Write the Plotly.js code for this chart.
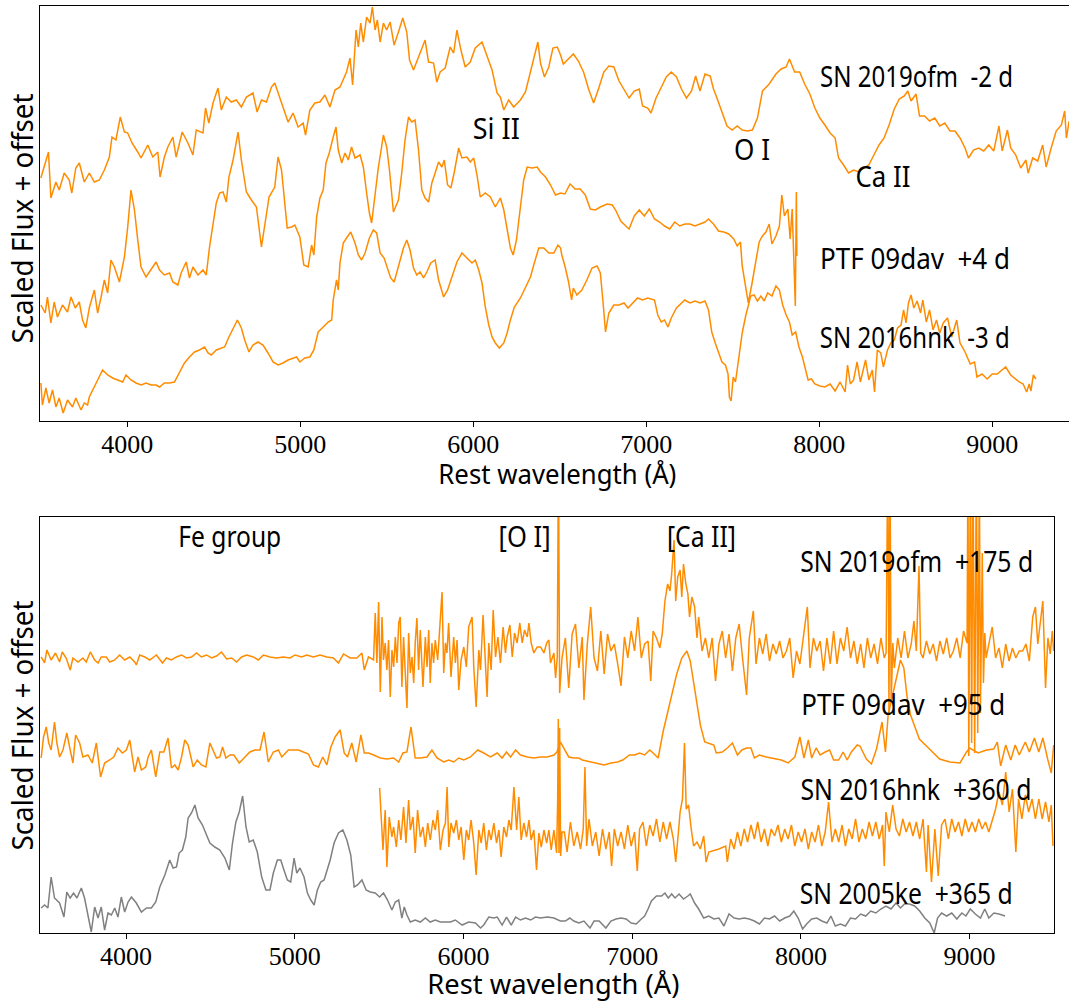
<!DOCTYPE html>
<html><head><meta charset="utf-8">
<script src="https://cdn.plot.ly/plotly-3.0.1.min.js"></script>
<style>html,body{margin:0;padding:0;background:#fff;} #chart{width:1069px;height:1004px;}</style>
</head><body><div id="chart"></div>
<script>
// ---------- TOP PANEL (early spectra) ----------
const WL_19OFM_M2 = [3500,3544,3558,3587,3606,3635,3664,3679,3702,3722,3751,3780,3809,3838,3867,3896,3911,3934,3959,3983,4002,4027,4060,4079,4118,4147,4176,4189,4214,4234,4263,4282,4317,4350,4379,4398,4437,4452,4471,4495,4524,4543,4572,4601,4630,4659,4688,4726,4750,4775,4804,4833,4852,4871,4900,4929,4958,4987,5016,5030,5055,5084,5113,5142,5171,5200,5229,5248,5267,5287,5302,5322,5335,5349,5364,5383,5403,5416,5432,5445,5461,5480,5499,5519,5542,5567,5592,5615,5631,5654,5673,5692,5721,5741,5770,5789,5808,5837,5866,5886,5905,5928,5953,5982,6011,6050,6079,6108,6137,6156,6176,6204,6233,6272,6301,6330,6349,6373,6388,6411,6436,6460,6485,6504,
6520,6549,6578,6607,6637,6666,6695,6725,6754,6783,6812,6842,6871,6900,6930,6959,6978,7008,7027,7056,7076,7115,7144,7174,7203,7232,7261,7285,7310,7339,7369,7388,7408,7437,7466,7496,7525,7554,7583,7613,7642,7671,7710,7749,7779,7808,7827,7857,7886,7915,7945,7974,8003,8032,8062,8091,8111,8140,8169,8198,8228,8257,8286,8315,8345,8374,8403,8433,8462,8491,8511,8530,8559,8579,8608,8637,8667,8696,8725,8755,8784,8813,8842,8862,8891,8921,8950,8979,9008,9038,9057,9087,9106,9135,9164,9194,9207,9233,9262,9291,9311,9340,9369,9399,9418,9428,9444];
const FX_19OFM_M2 = [24.3,26.9,22.3,23.9,23.1,24.8,24.1,22.8,25.3,25.8,23.9,24.8,23.9,24.1,25.1,26.4,28.4,28.1,30.4,28.9,28.8,27.8,26.9,26.3,27.6,26.4,26.9,24.4,26.4,27.4,28.4,26.4,28.9,27.8,26.6,29.1,28.8,31.3,29.8,31.8,33.3,31.1,32.4,31.9,32.1,31.4,32.4,32.8,30.9,32.1,31.9,33.4,33.8,32.8,31.4,29.9,30.8,29.4,29.8,28.6,31.1,31.8,31.9,32.6,31.4,33.1,33.4,34.1,34.9,36.3,33.6,39.1,37.4,39.8,37.9,40.4,39.8,41.4,39.1,40.1,37.9,39.8,39.1,39.9,37.6,38.9,40.3,38.9,36.1,35.1,35.9,36.9,38.1,35.9,35.8,33.9,34.9,35.3,37.4,36.8,39.1,37.1,35.4,35.9,37.3,37.9,36.4,35.1,32.8,32.4,31.1,32.1,31.4,32.1,32.9,34.8,36.3,37.9,35.8,34.4,35.4,37.3,37.4,36.6,
35.7,36.2,36.7,36.0,34.9,33.2,31.8,33.3,34.9,35.5,35.4,34.0,33.2,32.3,33.0,33.2,31.5,31.3,30.8,32.3,33.0,34.4,34.9,34.4,33.2,32.3,33.0,34.5,33.0,34.7,34.5,33.2,32.3,30.8,29.5,29.1,29.5,29.1,29.0,29.1,30.3,33.0,33.7,34.7,35.2,35.4,36.2,34.9,34.9,33.7,32.7,31.3,30.3,29.6,28.8,28.3,26.3,25.6,24.8,25.1,24.9,25.3,25.6,26.6,27.6,28.3,29.6,31.2,32.2,32.5,33.0,32.0,32.7,30.5,30.5,30.0,30.3,29.5,29.8,29.0,29.0,28.3,27.3,26.3,27.1,27.3,27.0,27.6,27.0,29.5,27.0,29.1,27.3,26.6,25.3,26.1,24.8,26.3,26.0,27.6,25.4,27.3,29.0,29.6,31.0,28.3,30.0];

const WL_09DAV_P4 = [3500,3525,3538,3558,3577,3596,3625,3654,3674,3699,3722,3741,3760,3780,3809,3828,3847,3867,3886,3905,3925,3954,3983,4002,4021,4041,4060,4079,4108,4137,4166,4186,4214,4244,4263,4292,4311,4340,4359,4379,4408,4437,4456,4475,4495,4514,4533,4553,4572,4587,4611,4640,4659,4688,4717,4746,4775,4804,4819,4852,4871,4891,4910,4924,4949,4968,4997,5020,5045,5065,5078,5094,5113,5132,5148,5167,5190,5206,5219,5239,5258,5277,5296,5316,5345,5364,5383,5399,5412,5432,5451,5465,5480,5499,5515,5538,5567,5586,5605,5625,5644,5663,5683,5702,5721,5741,5760,5779,5799,5818,5832,5851,5870,5890,5915,5934,5963,5982,6002,6021,6040,6069,6098,6127,6156,6176,6195,6214,6230,6249,6272,6291,6311,6340,6369,6388,6417,6446,6475,6504,
6529,6559,6588,6617,6647,6676,6705,6734,6773,6803,6822,6852,6881,6900,6930,6959,6988,7017,7047,7076,7105,7135,7164,7193,7222,7252,7281,7310,7339,7359,7388,7417,7447,7476,7505,7525,7544,7554,7574,7589,7609,7632,7652,7671,7691,7710,7726,7749,7769,7783,7798,7818,7831,7843,7851,7861,7867,7870];
const FX_09DAV_P4 = [11.6,10.8,12.4,9.8,11.9,10.4,11.6,10.9,12.4,11.3,11.9,10.1,9.3,11.3,13.1,10.8,12.3,14.1,12.8,16.1,15.4,13.9,16.4,19.4,23.1,21.1,18.1,15.4,14.4,15.1,15.9,15.1,14.6,14.8,13.9,13.6,14.8,15.9,14.3,15.4,14.6,15.1,14.6,17.4,19.8,21.8,22.8,22.9,21.9,24.4,26.1,28.9,26.1,22.9,22.1,21.4,17.4,20.4,22.4,23.4,26.4,25.1,21.4,19.3,19.4,19.6,18.4,15.6,15.4,17.6,16.6,20.4,22.3,23.1,25.8,26.8,28.4,29.4,27.1,25.8,26.8,26.1,27.4,26.3,26.6,25.4,22.8,20.8,19.8,22.8,25.4,26.9,28.6,27.4,25.1,20.9,22.1,24.8,28.1,30.4,29.9,30.1,27.1,23.1,22.3,21.9,23.8,24.8,25.9,25.4,26.1,23.6,23.3,24.9,27.3,26.3,26.4,25.9,26.3,24.6,22.4,22.8,22.4,21.4,22.3,21.1,19.1,17.3,16.6,18.1,21.4,24.1,25.4,25.3,25.4,24.9,24.4,23.6,22.6,22.8,
22.7,23.7,23.2,23.2,22.6,21.2,21.1,21.4,21.7,21.6,21.1,20.0,19.5,19.2,20.5,21.1,20.5,21.2,20.2,19.9,19.5,19.2,19.9,19.5,19.7,19.7,19.5,19.7,19.9,20.2,19.7,19.0,18.9,18.7,18.2,17.5,17.9,15.5,13.5,11.8,13.6,15.8,17.9,18.5,18.9,19.7,17.7,18.5,19.5,22.6,20.5,21.2,18.2,21.2,16.5,11.5,22.9,16.5];

const WL_16HNK_M3 = [3500,3509,3529,3548,3567,3587,3606,3629,3654,3683,3702,3732,3751,3770,3780,3809,3838,3857,3886,3915,3944,3973,3992,4021,4050,4079,4108,4137,4166,4186,4214,4244,4272,4301,4330,4359,4388,4417,4446,4466,4485,4514,4543,4562,4587,4611,4636,4659,4678,4703,4726,4755,4784,4813,4842,4871,4900,4929,4958,4978,4997,5026,5055,5078,5103,5132,5161,5181,5190,5209,5219,5229,5248,5267,5291,5316,5335,5354,5374,5399,5422,5441,5461,5484,5503,5522,5542,5567,5596,5615,5634,5654,5673,5692,5712,5731,5754,5779,5799,5828,5851,5876,5905,5934,5963,5992,6011,6031,6050,6069,6089,6108,6127,6150,6176,6195,6214,6237,6272,6301,6330,6349,6378,6407,6436,6465,6489,6504,
6510,6529,6549,6568,6578,6598,6627,6656,6686,6715,6734,6750,6764,6783,6812,6842,6871,6894,6920,6949,6978,7008,7047,7066,7086,7105,7125,7144,7174,7203,7222,7252,7281,7310,7339,7359,7378,7398,7418,7437,7457,7472,7480,7490,7502,7515,7535,7554,7574,7593,7603,7623,7642,7662,7681,7701,7726,7749,7769,7788,7808,7827,7843,7863,7882,7902,7915,7935,7954,7974,8003,8032,8062,8091,8120,8149,8163,8179,8198,8218,8237,8267,8286,8306,8319,8335,8355,8370,8394,8413,8433,8452,8472,8487,8501,8515,8530,8546,8565,8585,8598,8618,8637,8657,8677,8696,8716,8741,8765,8794,8813,8842,8872,8897,8911,8940,8970,8999,9028,9057,9077,9106,9135,9155,9178,9198,9213,9223,9237,9252];
const FX_16HNK_M3 = [3.8,1.6,3.3,1.8,3.1,1.4,2.3,0.8,2.1,1.4,2.3,1.1,1.8,1.6,2.4,3.4,4.3,5.1,4.6,4.3,4.1,3.9,4.6,4.1,3.8,3.6,3.8,3.6,3.6,3.4,3.8,3.8,3.9,4.8,5.8,6.4,6.9,7.1,7.4,6.8,6.6,7.1,7.3,7.4,8.4,9.3,10.1,9.3,8.1,6.9,7.6,7.9,7.6,6.8,5.9,5.6,5.8,6.1,6.3,6.4,5.9,6.3,6.4,7.1,8.9,9.4,9.9,10.1,12.1,14.1,13.1,15.8,17.8,18.3,18.9,17.8,16.6,16.1,16.8,18.3,19.1,18.8,16.8,16.3,15.4,14.3,13.9,15.4,17.3,18.1,17.1,15.3,14.6,14.9,14.3,14.9,15.8,16.1,14.1,12.4,13.1,14.4,15.9,16.8,16.3,15.8,16.1,15.1,13.8,11.4,9.6,8.4,7.8,7.3,7.8,8.8,10.1,11.4,12.3,13.4,14.4,15.6,17.3,17.3,16.8,16.8,17.6,17.3,
16.7,15.5,14.0,12.1,13.3,12.6,13.1,14.1,15.3,15.5,14.8,11.8,8.9,10.8,11.6,11.6,11.8,11.3,11.8,12.3,12.1,12.3,12.1,10.6,9.9,10.1,9.4,10.3,11.3,11.8,12.1,11.8,12.0,11.8,12.0,11.1,8.9,7.8,6.7,5.9,5.6,4.7,2.4,2.0,4.4,3.9,6.4,8.8,10.5,11.8,12.5,12.6,12.0,12.5,12.0,12.8,12.5,13.5,13.1,11.6,10.6,9.9,8.6,8.9,7.4,6.4,5.4,4.1,4.2,3.7,3.5,3.4,3.7,3.0,3.9,2.9,5.6,3.7,4.1,5.9,3.9,6.1,4.1,5.1,2.9,7.1,6.8,5.4,7.1,7.8,8.1,9.3,9.6,11.1,9.8,11.8,12.6,11.3,12.0,10.8,12.1,9.9,11.1,9.1,10.1,8.8,9.8,10.3,8.4,10.1,7.8,6.9,5.7,5.9,4.4,4.7,4.2,4.7,4.7,5.1,5.4,4.6,4.2,3.9,3.7,2.9,3.7,3.0,4.6,4.2];

// ---------- BOTTOM PANEL (nebular spectra) ----------
const WL_19OFM_P175 = [3497,3517,3531,3556,3582,3606,3622,3645,3669,3685,3715,3744,3764,3788,3814,3834,3853,3883,3903,3933,3962,3992,4022,4051,4061,4081,4111,4140,4180,4216,4239,4269,4299,4329,4358,4388,4418,4447,4477,4507,4536,4566,4596,4626,4655,4685,4715,4754,4784,4814,4853,4893,4932,4972,5002,5041,5071,5111,5150,5190,5229,5259,5289,5328,5368,5398,5412,5437,5467,5477,5487,5497,5507,5517,5526,5536,5546,5556,5566,5576,5586,5596,5606,5616,5625,5635,5645,5655,5665,5675,5685,5695,5705,5714,5724,5734,5744,5760,5774,5784,5794,5803,5813,5823,5833,5847,5859,5873,5883,5893,5902,5912,5926,5942,5952,5962,5972,5986,6002,6017,6031,6051,6061,6075,6091,6101,6116,6130,6140,6150,6164,6176,6190,6204,6219,6235,6249,6259,6275,6289,6303,6318,6334,6348,6362,6378,6388,6401,6417,6437,6457,6477,6493,6506,6516,6536,6546,6556,6563,6570,
6584,6604,6624,6644,6664,6684,6704,6714,6734,6754,6774,6794,6814,6834,6854,6874,6894,6914,6934,6954,6974,6994,7014,7034,7054,7074,7094,7110,7124,7144,7164,7178,7194,7210,7224,7234,7248,7258,7270,7284,7294,7304,7318,7330,7340,7354,7370,7384,7394,7414,7434,7454,7474,7494,7514,7534,7554,7574,7594,7614,7634,7654,7678,7694,7718,7734,7754,7774,7794,7814,7834,7854,7874,7894,7914,7934,7954,7974,7994,8014,8038,8054,8074,8094,8114,8134,8154,8174,8194,8214,8234,8254,8274,8294,8314,8334,8354,8374,8394,8414,8434,8454,8474,8494,8505,8515,8522,8528,8535,8545,8554,8574,8594,8614,8634,8654,8670,8684,8700,8710,8724,8744,8764,8784,8804,8824,8844,8864,8884,8904,8924,8944,8964,8985,8990,8995,9005,9012,9020,9030,9040,9048,9058,9064,9075,9082,9090,9098,9114,9134,9154,9174,9194,9214,9234,9254,9274,9294,9314,9334,9354,9374,9390,9404,9418,9434,9450,9464,9478,9490,9498];
const FX_19OFM_P175 = [27.6,27.0,28.3,27.3,28.0,27.1,28.1,27.5,26.3,27.5,27.1,27.5,27.1,28.1,27.3,27.0,27.6,27.6,27.1,27.3,27.8,27.3,27.6,27.1,26.8,27.8,27.6,27.3,27.8,27.0,27.5,27.3,27.6,27.8,27.5,27.6,28.0,27.6,27.8,27.5,27.7,28.1,27.4,27.5,27.1,27.6,27.8,27.6,27.3,27.8,27.6,27.5,27.6,27.5,27.8,27.6,27.8,27.6,27.8,27.6,27.5,27.0,27.9,27.5,27.5,28.0,26.3,27.6,27.3,32.0,27.0,33.1,24.1,31.6,27.3,29.0,26.3,29.3,23.6,28.3,26.6,29.6,27.0,31.0,31.6,24.6,29.6,26.3,22.5,30.0,26.0,27.6,25.0,29.0,31.5,26.3,30.3,24.6,29.6,26.6,30.3,25.0,29.0,27.0,29.3,27.3,30.0,34.1,26.0,29.0,28.0,31.0,25.6,29.6,27.0,29.3,24.3,27.3,28.6,26.6,30.6,31.6,26.6,22.6,28.3,26.3,31.8,26.6,23.6,29.0,26.3,32.3,27.6,29.6,27.0,30.6,28.0,29.6,30.8,27.6,30.0,29.0,31.0,29.0,30.3,29.6,31.0,29.0,28.0,28.6,28.6,28.0,29.0,29.3,27.0,28.0,25.5,27.6,48,24.0,
27.5,29.5,24.5,29.9,30.9,26.5,29.6,23.3,28.9,32.6,27.5,26.2,30.2,25.9,29.9,28.2,28.9,26.9,24.7,29.6,27.5,30.2,28.2,31.6,27.5,28.9,29.2,25.2,30.2,29.5,28.5,29.9,33.2,34.9,34.2,35.9,39.3,33.2,35.6,36.3,33.6,36.9,34.9,33.9,31.6,33.6,32.6,29.5,31.6,28.2,29.5,27.5,29.5,25.2,28.9,30.2,27.5,29.9,26.2,29.5,30.9,27.5,23.8,29.5,32.2,26.9,29.5,27.9,29.9,27.2,28.9,27.9,29.2,27.5,28.2,29.5,25.5,28.2,26.9,29.5,32.6,26.5,29.5,28.2,29.2,26.2,29.5,26.9,30.2,26.9,29.5,28.2,30.6,27.5,29.2,26.9,28.9,26.5,29.5,27.5,28.9,26.9,29.5,27.5,28,48,22,48,23,29,26.5,29.5,27.5,30.2,27.5,28.9,31.2,28.2,36.7,28.0,27.5,29.2,27.9,28.9,27.2,29.2,27.9,29.5,27.5,28.2,29.5,27.5,30.2,29,48,17.7,48,19,48,18,48,20,46,22,38,25,30,27.5,28.9,30.6,27.5,28.5,26.5,28.9,27.2,28.5,27.5,28.2,28.2,28.9,27.2,31.6,32.6,28.9,30.9,33.2,24.5,29.5,27.9,30.2,28.2];

const WL_09DAV_P95 = [3497,3511,3527,3542,3556,3576,3590,3606,3626,3649,3669,3685,3701,3725,3744,3774,3800,3824,3849,3873,3903,3927,3952,3978,4002,4022,4051,4071,4091,4117,4131,4150,4176,4200,4224,4249,4269,4289,4309,4329,4348,4368,4398,4422,4447,4473,4497,4517,4536,4556,4572,4592,4616,4639,4671,4705,4734,4764,4794,4818,4843,4873,4903,4923,4962,4992,5022,5051,5081,5111,5140,5166,5190,5214,5239,5269,5293,5313,5338,5364,5392,5412,5437,5467,5507,5546,5586,5616,5641,5665,5689,5714,5744,5784,5813,5843,5883,5913,5942,5972,6002,6041,6085,6120,6160,6200,6229,6255,6279,6309,6338,6378,6417,6457,6497,6536,
6554,6574,6594,6624,6654,6684,6704,6754,6794,6834,6874,6914,6944,6984,7014,7044,7074,7104,7124,7154,7184,7224,7264,7294,7324,7344,7374,7404,7430,7454,7484,7498,7534,7564,7594,7624,7650,7678,7704,7724,7754,7794,7834,7884,7924,7964,7994,8018,8044,8064,8090,8114,8144,8170,8194,8224,8250,8274,8299,8334,8350,8388,8418,8448,8481,8501,8517,8540,8565,8590,8610,8630,8650,8672,8702,8762,8822,8883,8943,8982,9000,9050,9100,9143,9164,9184,9214,9244,9270,9294,9330,9354,9384,9410,9434,9464,9484,9498];
const FX_09DAV_P95 = [17.5,19.6,20.6,19.0,18.3,21.1,19.0,17.6,18.3,20.0,18.3,17.0,19.8,19.0,17.6,17.8,17.0,19.0,15.6,17.0,17.3,17.6,18.5,18.0,18.3,19.3,16.1,17.6,16.3,16.6,17.6,18.3,15.6,18.1,18.1,19.5,16.5,16.8,16.3,17.6,19.3,18.8,16.6,17.3,16.8,16.6,19.0,18.3,17.5,17.6,18.6,17.5,17.8,17.8,17.0,17.6,18.1,18.3,18.3,20.1,17.1,18.1,18.3,17.6,18.3,18.3,18.3,18.1,17.9,16.8,16.6,17.6,16.8,18.6,19.6,20.3,18.0,17.6,19.0,17.1,19.8,18.0,18.0,17.8,17.5,17.4,17.5,17.1,18.0,18.1,20.6,17.5,17.5,17.6,18.3,17.5,17.1,17.3,17.1,17.5,17.3,17.6,18.3,18.0,17.6,18.0,17.5,18.1,17.6,18.3,17.8,17.6,17.5,17.6,17.6,17.8,
18.1,19.1,18.5,17.6,17.5,17.5,17.3,17.1,17.0,16.8,17.0,17.1,17.3,17.8,17.8,18.0,17.8,18.3,18.0,17.5,20.2,23.2,25.9,27.5,28.2,27.2,23.8,20.8,19.1,19.0,18.8,18.0,18.1,18.5,19.0,17.8,18.3,18.5,18.5,17.5,17.8,17.6,17.5,17.3,17.0,17.6,19.6,17.5,19.3,17.5,18.5,17.8,18.1,18.3,17.3,17.3,18.1,17.3,18.1,18.8,18.7,17.4,16.9,18.4,21.1,18.1,21.8,23.5,25.5,27.3,26.5,23.5,21.8,20.8,19.4,18.4,17.4,17.1,17.0,18.1,18.5,18.0,18.3,18.4,19.1,16.7,18.8,17.3,18.8,17.8,19.1,18.1,19.5,18.1,19.5,17.3,16.0,18.8];

const WL_16HNK_P360 = [5503,5511,5523,5536,5546,5560,5576,5586,5602,5616,5629,5645,5659,5675,5685,5701,5714,5728,5744,5760,5774,5788,5803,5819,5833,5847,5863,5879,5893,5903,5913,5926,5942,5958,5972,5986,6002,6017,6031,6045,6061,6075,6091,6105,6120,6136,6150,6164,6180,6196,6210,6223,6239,6255,6269,6283,6299,6315,6328,6342,6358,6374,6388,6401,6417,6433,6447,6461,6477,6493,6506,6520,6536,6552,6558,6562,6566,6570,6576,6584,
6598,6614,6634,6654,6674,6694,6710,6720,6730,6744,6764,6784,6804,6824,6844,6864,6878,6894,6914,6934,6954,6974,6994,7014,7030,7044,7064,7084,7104,7124,7144,7164,7184,7204,7224,7244,7258,7274,7284,7298,7310,7320,7334,7350,7364,7384,7404,7424,7438,7454,7514,7554,7564,7584,7604,7624,7644,7664,7684,7704,7724,7744,7764,7784,7804,7824,7844,7864,7884,7904,7924,7944,7964,7984,8004,8024,8044,8064,8084,8104,8124,8144,8164,8184,8204,8224,8244,8264,8284,8304,8324,8344,8364,8384,8404,8424,8444,8464,8484,8494,8504,8524,8544,8564,8584,8604,8624,8644,8664,8684,8704,8724,8744,8754,8774,8794,8814,8834,8854,8874,8894,8914,8934,8954,8974,8994,9014,9034,9054,9074,9094,9114,9134,9154,9174,9194,9214,9234,9254,9274,9290,9310,9330,9350,9370,9390,9410,9430,9450,9470,9484,9494];
const FX_16HNK_P360 = [14.5,11.6,8.3,12.3,6.6,11.6,9.6,10.6,8.6,11.3,9.3,12.6,9.0,13.3,10.3,11.6,8.0,12.3,9.6,10.6,8.6,11.0,9.3,11.3,10.3,12.3,8.3,10.3,11.0,14.6,8.6,11.0,10.0,11.3,9.3,10.6,7.3,10.3,9.3,11.3,9.0,5.8,10.3,9.0,11.0,8.3,10.3,9.3,11.0,9.0,10.3,7.6,10.6,9.6,11.3,10.3,14.6,10.3,13.6,9.3,11.0,9.6,11.3,9.3,10.3,6.3,10.0,8.6,10.3,9.0,10.3,8.3,10.3,8.0,13.0,21.4,8.0,20.5,7.7,10.1,
10.1,8.1,11.1,8.7,10.1,8.4,10.4,16.6,8.7,11.4,8.7,10.1,7.7,10.4,8.4,10.1,6.7,10.4,8.7,10.1,8.4,10.8,8.7,10.1,6.2,10.4,11.1,8.7,10.8,9.7,11.4,9.1,11.1,9.4,11.1,9.4,7.1,10.1,12.1,13.4,19.0,12.4,12.8,10.4,8.7,9.1,8.4,9.7,7.1,8.1,8.4,8.7,7.1,9.4,8.4,10.1,8.7,10.4,9.1,10.8,9.4,11.1,9.1,10.4,8.7,10.4,9.7,10.8,9.1,10.4,9.4,10.8,8.7,10.1,9.1,10.4,8.4,10.1,9.1,10.8,8.7,10.1,13.1,9.1,10.4,9.1,10.8,8.7,10.4,9.4,11.4,9.1,10.4,9.4,11.1,9.7,11.1,9.4,10.8,6.7,12.1,10.1,12.8,10.4,9.7,11.4,10.1,11.1,9.7,11.1,9.4,11.4,6.1,10.8,5.1,10.4,5.7,10.8,11.4,9.4,11.4,10.1,11.1,9.7,11.4,10.1,11.1,10.1,11.4,10.4,11.1,10.1,11.4,12.4,14.1,12.8,16.1,12.1,14.4,8.1,13.4,11.4,13.8,12.1,13.4,11.4,13.4,11.4,13.1,11.1,12.8,8.7];

const WL_05KE_P365 = [3497,3517,3537,3556,3576,3606,3632,3649,3669,3689,3709,3735,3754,3774,3794,3814,3834,3853,3873,3893,3913,3933,3952,3972,3992,4012,4032,4061,4091,4121,4150,4176,4200,4230,4259,4279,4299,4315,4334,4354,4368,4388,4408,4427,4453,4477,4497,4526,4556,4586,4612,4631,4651,4671,4691,4711,4730,4754,4778,4804,4829,4853,4873,4897,4917,4936,4956,4976,4996,5012,5031,5055,5075,5095,5115,5134,5154,5174,5190,5210,5233,5259,5285,5309,5332,5352,5372,5398,5423,5447,5477,5503,5526,5550,5576,5596,5616,5635,5649,5665,5685,5714,5744,5774,5803,5833,5863,5893,5923,5952,5992,6031,6071,6101,6120,6150,6180,6200,6229,6255,6283,6309,6338,6368,6398,6427,6457,6497,6536,
6574,6604,6630,6654,6684,6714,6750,6774,6804,6844,6874,6904,6934,6964,6994,7024,7054,7074,7094,7114,7144,7174,7194,7214,7234,7254,7278,7304,7330,7344,7370,7394,7424,7454,7484,7514,7544,7574,7604,7634,7664,7694,7724,7754,7784,7814,7844,7874,7904,7934,7958,7984,8010,8034,8064,8094,8124,8154,8178,8204,8234,8264,8294,8324,8354,8384,8414,8444,8474,8504,8534,8564,8590,8614,8644,8674,8704,8734,8764,8790,8810,8834,8864,8894,8924,8954,8978,9004,9034,9064,9090,9114,9144,9174,9210];
const FX_05KE_P365 = [2.5,2.8,2.5,5.6,3.5,3.0,1.6,4.1,3.5,4.0,3.5,4.5,3.5,1.8,0.1,2.6,1.5,2.6,0.3,2.0,1.8,2.5,1.6,3.6,2.1,3.1,3.6,3.0,2.1,2.5,2.5,3.1,4.6,5.8,7.3,6.5,6.6,8.0,8.3,9.6,11.5,12.0,12.8,11.5,10.8,9.8,9.0,8.6,8.3,7.5,6.3,9.0,11.1,12.1,13.7,10.6,9.1,9.3,8.1,5.6,4.3,4.3,6.0,7.3,7.3,6.3,5.3,5.1,7.5,6.0,6.5,5.6,4.0,3.3,2.8,4.3,5.1,5.3,6.1,7.3,9.0,10.0,10.3,9.3,7.8,4.6,4.8,5.3,4.3,4.1,4.0,3.6,4.0,3.3,2.3,3.1,3.3,1.5,2.6,1.8,1.1,1.3,1.1,1.5,1.1,1.3,1.1,1.1,1.1,1.3,0.8,1.1,1.0,0.5,0.8,1.6,1.5,1.6,0.8,1.6,0.8,1.6,1.3,1.5,1.3,1.6,1.5,1.6,1.5,
1.2,1.2,1.5,1.2,1.0,1.2,0.5,1.2,1.2,0.5,1.2,1.4,1.5,1.4,1.0,0.9,1.4,1.7,2.4,3.2,3.7,3.7,4.0,3.5,3.9,3.5,3.9,3.4,3.7,3.9,3.0,2.4,1.5,1.7,1.4,1.5,0.7,1.9,1.5,1.4,1.5,1.4,1.2,0.9,1.5,1.4,1.7,1.2,1.5,1.7,2.2,1.5,0.4,0.9,1.4,1.5,1.2,1.0,1.7,0.7,0.9,0.7,1.5,1.4,1.9,1.7,2.2,2.0,2.4,2.7,2.4,3.0,2.5,2.9,2.9,2.7,2.2,1.5,1.0,0.0,1.5,2.0,1.7,2.0,1.4,2.0,1.7,2.4,1.9,1.5,2.4,1.5,2.0,1.9,1.7];

const TICK_VALUES = [4000, 5000, 6000, 7000, 8000, 9000];
const X_TITLE = 'Rest wavelength (Å)';
const Y_TITLE = 'Scaled Flux + offset';

// ---------- styling ----------
const ORANGE = '#ff8c00', GREY = '#808080';
function spec(x, y, xa, ya, color) {
  return {type: 'scatter', mode: 'lines', x: x, y: y, xaxis: xa, yaxis: ya,
          line: {color: color, width: 1.5}, hoverinfo: 'skip', showlegend: false};
}
const traces = [
  spec(WL_19OFM_M2, FX_19OFM_M2, 'x', 'y', ORANGE),
  spec(WL_09DAV_P4, FX_09DAV_P4, 'x', 'y', ORANGE),
  spec(WL_16HNK_M3, FX_16HNK_M3, 'x', 'y', ORANGE),
  spec(WL_19OFM_P175, FX_19OFM_P175, 'x2', 'y2', ORANGE),
  spec(WL_09DAV_P95, FX_09DAV_P95, 'x2', 'y2', ORANGE),
  spec(WL_16HNK_P360, FX_16HNK_P360, 'x2', 'y2', ORANGE),
  spec(WL_05KE_P365, FX_05KE_P365, 'x2', 'y2', GREY)
];

const SANS = 'Noto Sans, DejaVu Sans, sans-serif';
const labels = [
  {text: 'SN 2019ofm\u00a0 -2 d', xref: 'x', yref: 'y', x: 8562, y: 34.6, w: 193},
  {text: 'Si II', xref: 'x', yref: 'y', x: 6134, y: 29.4, w: 47},
  {text: 'O I', xref: 'x', yref: 'y', x: 7611, y: 27.3, w: 36},
  {text: 'Ca II', xref: 'x', yref: 'y', x: 8365, y: 24.6, w: 55},
  {text: 'PTF 09dav\u00a0 +4 d', xref: 'x', yref: 'y', x: 8553, y: 16.3, w: 190},
  {text: 'SN 2016hnk\u00a0 -3 d', xref: 'x', yref: 'y', x: 8553, y: 8.4, w: 190},
  {text: 'Fe group', xref: 'x2', yref: 'y2', x: 4613, y: 39.7, w: 103},
  {text: '[O I]', xref: 'x2', yref: 'y2', x: 6359, y: 39.7, w: 52},
  {text: '[Ca II]', xref: 'x2', yref: 'y2', x: 7411, y: 39.7, w: 69},
  {text: 'SN 2019ofm\u00a0 +175 d', xref: 'x2', yref: 'y2', x: 8686, y: 37.2, w: 233},
  {text: 'PTF 09dav\u00a0 +95 d', xref: 'x2', yref: 'y2', x: 8606, y: 22.9, w: 204},
  {text: 'SN 2016hnk\u00a0 +360 d', xref: 'x2', yref: 'y2', x: 8680, y: 14.4, w: 231},
  {text: 'SN 2005ke\u00a0 +365 d', xref: 'x2', yref: 'y2', x: 8627, y: 4.1, w: 213},
  {text: X_TITLE, xref: 'paper', yref: 'paper', x: 0.5034, y: 0.5284, w: 238, size: 28},
  {text: X_TITLE, xref: 'paper', yref: 'paper', x: 0.4995, y: 0.0, w: 252, size: 28, ya: 'bottom'},
  {text: Y_TITLE, xref: 'paper', yref: 'paper', x: -0.0175, y: 0.7829, w: 250, angle: -90},
  {text: Y_TITLE, xref: 'paper', yref: 'paper', x: -0.0175, y: 0.2779, w: 250, angle: -90}
];
const annotations = labels.map(l => ({
  text: l.text, xref: l.xref, yref: l.yref, x: l.x, y: l.y,
  xanchor: 'center', yanchor: l.ya || 'middle', showarrow: false, textangle: l.angle || 0,
  font: {family: SANS, size: l.size || 29, color: '#000'}
}));

const xBase = {
  showline: true, mirror: true, linecolor: '#000', linewidth: 1,
  ticks: 'outside', ticklen: 5, tickwidth: 1, tickcolor: '#000',
  tickmode: 'array', tickvals: TICK_VALUES, ticktext: TICK_VALUES.map(String),
  tickfont: {family: 'Liberation Serif, serif', size: 26, color: '#000'},
  ticklabelstandoff: -5,
  showgrid: false, zeroline: false, automargin: false
};
const yBase = {
  showline: true, linecolor: '#000', linewidth: 1, ticks: '', showticklabels: false,
  showgrid: false, zeroline: false, automargin: false
};

const layout = {
  width: 1069, height: 1004,
  margin: {l: 40, r: 0, t: 0, b: 0, pad: 0},
  paper_bgcolor: '#fff', plot_bgcolor: '#fff',
  showlegend: false,
  xaxis: Object.assign({}, xBase, {domain: [0, 1], range: [3495, 9443], anchor: 'y'}),
  yaxis: Object.assign({}, yBase, {domain: [0.5807, 0.9940], range: [0, 41.5], anchor: 'x', mirror: false}),
  xaxis2: Object.assign({}, xBase, {domain: [0, 0.9854], range: [3490, 9500], anchor: 'y2'}),
  yaxis2: Object.assign({}, yBase, {domain: [0.0707, 0.4851], range: [0, 41.6], anchor: 'x2', mirror: true}),
  annotations: annotations
};

Plotly.newPlot('chart', traces, layout, {staticPlot: true, displayModeBar: false}).then(() => {
  document.querySelectorAll('#chart g.annotation').forEach(g => {
    const i = +g.getAttribute('data-index');
    const t = g.querySelector('text.annotation-text');
    if (t && labels[i] && labels[i].w) {
      t.setAttribute('textLength', labels[i].w);
      t.setAttribute('lengthAdjust', 'spacingAndGlyphs');
    }
  });
});
</script>
</body></html>
